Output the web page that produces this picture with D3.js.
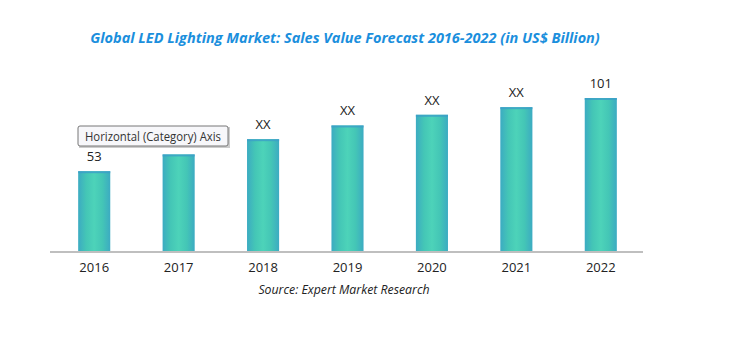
<!DOCTYPE html>
<html>
<head>
<meta charset="utf-8">
<script src="https://cdn.jsdelivr.net/npm/d3@7"></script>
<style>
  body { margin: 0; background: #fff; }
  svg { display: block; }
</style>
</head>
<body>
<div id="chart"></div>
<script>
// chart data
const years = ["2016", "2017", "2018", "2019", "2020", "2021", "2022"];
const sales = [53, 64, 74, 83, 90, 95, 101];
// 2017 label sits under the tooltip in the original, so it is left blank
const valueLabels = ["53", "", "XX", "XX", "XX", "XX", "101"];

const width = 734, height = 344;
const margin = {left: 52, right: 91, top: 60, bottom: 92};

const svg = d3.select("#chart").append("svg")
    .attr("width", width)
    .attr("height", height);

const defs = svg.append("defs");
const grad = defs.append("linearGradient")
    .attr("id", "barGrad")
    .attr("x1", "0").attr("x2", "1").attr("y1", "0").attr("y2", "0");
grad.append("stop").attr("offset", "0%").attr("stop-color", "#3cabc2");
grad.append("stop").attr("offset", "25%").attr("stop-color", "#44c6b6");
grad.append("stop").attr("offset", "50%").attr("stop-color", "#4dd3b9");
grad.append("stop").attr("offset", "75%").attr("stop-color", "#44c6b6");
grad.append("stop").attr("offset", "100%").attr("stop-color", "#3cabc2");

const x = d3.scaleBand()
    .domain(years)
    .range([margin.left, width - margin.right])
    .paddingInner(0.62)
    .paddingOuter(0.31);

const y = d3.scaleLinear()
    .domain([0, 101])
    .range([height - margin.bottom, height - margin.bottom - 154]);

// title
svg.append("text")
    .attr("x", 345)
    .attr("y", 43)
    .attr("text-anchor", "middle")
    .attr("fill", "#1b8fdd")
    .style("font-family", "'Open Sans', sans-serif")
    .style("font-size", "14.5px")
    .style("font-weight", "bold")
    .style("font-style", "italic")
    .text("Global LED Lighting Market: Sales Value Forecast 2016-2022 (in US$ Billion)");

// bars
svg.selectAll("rect.bar")
    .data(sales)
    .enter()
    .append("rect")
    .attr("class", "bar")
    .attr("x", (d, i) => x(years[i]))
    .attr("width", x.bandwidth())
    .attr("y", d => y(d))
    .attr("height", d => y(0) - y(d))
    .attr("fill", "url(#barGrad)");

// thin bluish cap on top of each bar
svg.selectAll("rect.cap")
    .data(sales)
    .enter()
    .append("rect")
    .attr("class", "cap")
    .attr("x", (d, i) => x(years[i]))
    .attr("width", x.bandwidth())
    .attr("y", d => y(d))
    .attr("height", 2)
    .attr("fill", "#3b9fc8")
    .attr("opacity", 0.8);

// value labels
svg.selectAll("text.val")
    .data(sales)
    .enter()
    .append("text")
    .attr("class", "val")
    .attr("x", (d, i) => x(years[i]) + x.bandwidth() / 2)
    .attr("y", d => y(d) - 10)
    .attr("text-anchor", "middle")
    .attr("fill", "#222")
    .style("font-family", "'Open Sans', sans-serif")
    .style("font-size", "13px")
    .text((d, i) => valueLabels[i]);

// x axis
const xAxis = svg.append("g")
    .attr("transform", "translate(0," + y(0) + ")")
    .call(d3.axisBottom(x).tickSize(0).tickPadding(11));
xAxis.select(".domain")
    .attr("stroke", "#bfbfbf")
    .attr("stroke-width", 2)
    .attr("d", "M" + (margin.left - 2) + ",0H" + (width - margin.right));
xAxis.selectAll("text")
    .attr("fill", "#222")
    .style("font-family", "'Open Sans', sans-serif")
    .style("font-size", "13px");

// source note
svg.append("text")
    .attr("x", 344)
    .attr("y", 294)
    .attr("text-anchor", "middle")
    .attr("fill", "#222")
    .style("font-family", "'Open Sans', sans-serif")
    .style("font-size", "12.3px")
    .style("font-style", "italic")
    .text("Source: Expert Market Research");

// tooltip box
const tip = svg.append("g").attr("transform", "translate(78,126)");
tip.append("rect")
    .attr("x", 1).attr("y", 1)
    .attr("width", 151).attr("height", 21)
    .attr("fill", "#9a9a9a").attr("opacity", 0.5);
tip.append("rect")
    .attr("width", 150).attr("height", 20)
    .attr("rx", 2)
    .attr("fill", "#f7f7fa")
    .attr("stroke", "#767676");
tip.append("text")
    .attr("x", 7).attr("y", 14.5)
    .attr("fill", "#333")
    .attr("textLength", 136)
    .attr("lengthAdjust", "spacingAndGlyphs")
    .style("font-family", "'Open Sans', sans-serif")
    .style("font-size", "12px")
    .text("Horizontal (Category) Axis");
</script>
</body>
</html>
